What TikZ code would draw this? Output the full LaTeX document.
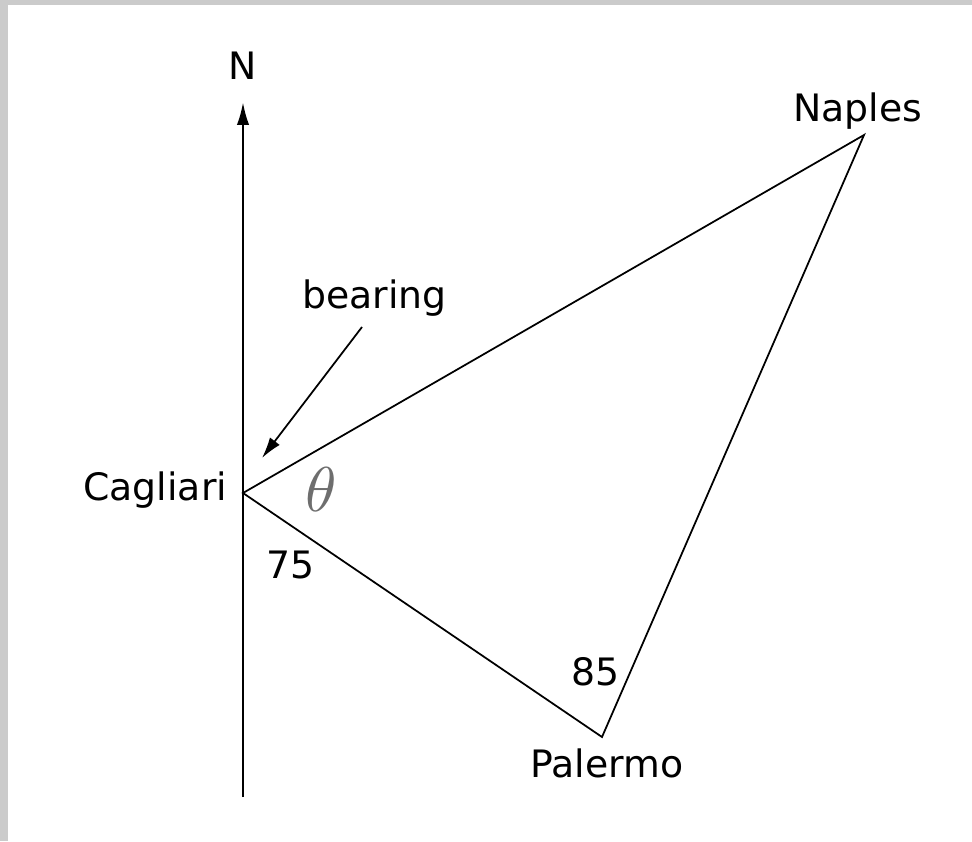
\documentclass[tikz,border=0pt]{standalone}
\usepackage{fontspec}
\setmainfont{DejaVu Sans}
\usepackage{graphicx}
\usepackage{xcolor}
\definecolor{frgray}{RGB}{203,203,203}
\definecolor{thgray}{RGB}{110,110,110}
\usepackage{tikz}
\usetikzlibrary{arrows.meta, positioning}

\begin{document}
\begin{tikzpicture}[x=0.02cm, y=-0.02cm,
    lbl/.style={font=\fontsize{21.5}{26}\selectfont, inner sep=0pt, anchor=base west},
    side/.style={draw=black, line width=1pt},
    pointer/.style={draw=black, line width=1pt, -{Latex[length=12pt, width=7pt]}}]
  % Frame
  \fill[frgray] (0,0) rectangle (972,841);
  \fill[white] (8,5) rectangle (972,841);
  \useasboundingbox (0,0) rectangle (972,841);

  % Corners
  \coordinate (cag) at (243,493);
  \coordinate (nap) at (864,135);
  \coordinate (pal) at (602,737);

  % North axis
  \coordinate (axbot) at (243,797);
  \coordinate (axtop) at (243,102);
  \draw[line width=1.4pt, -{Latex[length=13pt, width=7pt]}] (axbot) -- (axtop);
  \node[lbl, anchor=base] (north) at (243,80) {N};

  % Triangle
  \draw[side] (cag) -- (nap) -- (pal) -- cycle;

  % Labels
  \node[lbl] (naples) at (793,122) {Naples};
  \node[lbl] (cagliari) at (83,500) {Cagliari};
  \node[lbl] (palermo) at (530,777) {Palermo};
  \node[lbl] (d75) at (266,578) {75};
  \node[lbl] (d85) at (571,685) {85};
  \node[font=\normalsize, text=thgray, inner sep=0pt] (theta) at (321,490) {\scalebox{3.6}{$\theta$}};

  % Bearing
  \node[lbl] (bearing) at (302,308) {bearing};
  \coordinate (brgtail) at (362,327);
  \coordinate (brgtip) at (262,458);
  \draw[pointer] (brgtail) -- (brgtip);
\end{tikzpicture}
\end{document}
